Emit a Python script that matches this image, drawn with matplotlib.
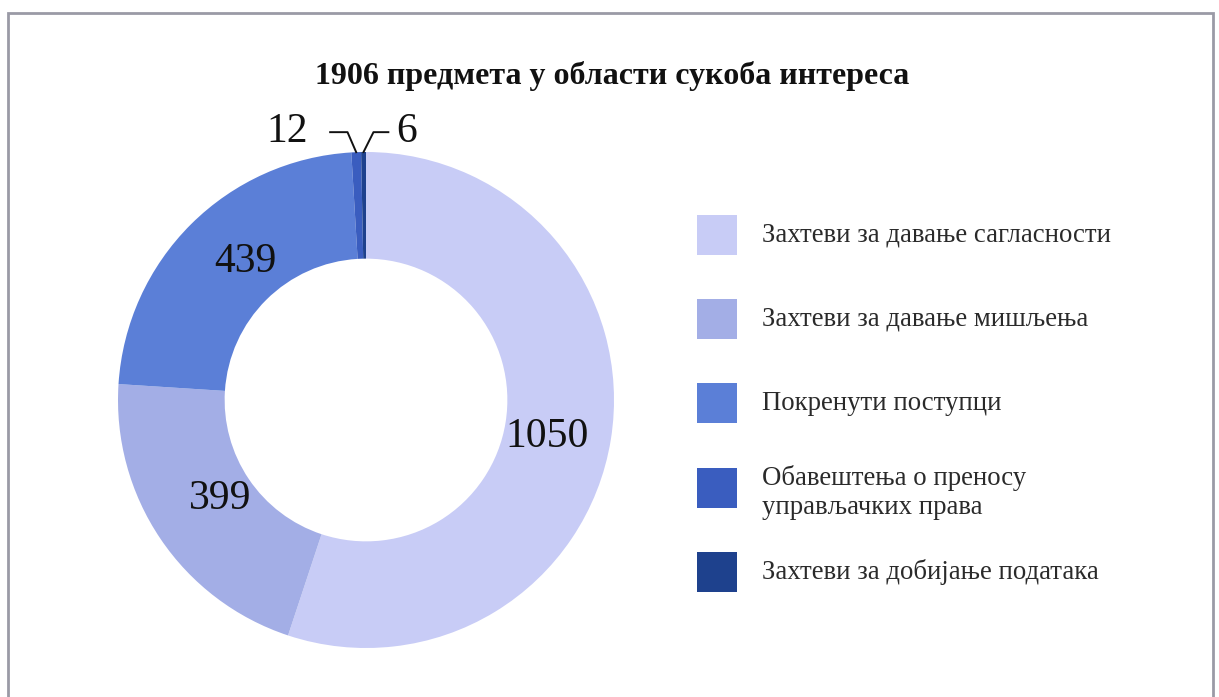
import numpy as np
import matplotlib
matplotlib.use("Agg")
import matplotlib.pyplot as plt
from matplotlib.patches import Rectangle

# podaci
categories = [
    "Захтеви за давање сагласности",
    "Захтеви за давање мишљења",
    "Покренути поступци",
    "Обавештења о преносу\nуправљачких права",
    "Захтеви за добијање података",
]
values = [1050, 399, 439, 12, 6]
colors = ["#c8ccf6", "#a3aee6", "#5b7fd7", "#3a5dbf", "#1e418d"]
title = "1906 предмета у области сукоба интереса"

plt.rcParams["font.family"] = ["Liberation Serif", "DejaVu Serif"]

fig = plt.figure(figsize=(12.19, 6.97), dpi=100)
W, H = 1219, 697

# okvir
fig.patches.append(Rectangle((8 / W, -0.05), (1213 - 8) / W, 0.05 + (697 - 13) / H,
                             transform=fig.transFigure, fill=False,
                             edgecolor="#9a9aa6", linewidth=2))

# krofna
ax = fig.add_axes([118 / W, (H - 648) / H, 496 / W, 496 / H])
wedges, _ = ax.pie(values, colors=colors, startangle=90, counterclock=False,
                   radius=1, wedgeprops=dict(width=0.43, edgecolor="none"))
ax.set_xlim(-1, 1)
ax.set_ylim(-1, 1)
ax.set_aspect("equal")
ax.axis("off")

# oznake vrednosti
label_pos = [(0.74, -0.03), (0.71, 0.0), (0.69, 0.07)]  # (radius, pomeraj po y)
for w, v, (r, dy) in zip(wedges[:3], values[:3], label_pos):
    mid = np.deg2rad((w.theta1 + w.theta2) / 2)
    ax.text(r * np.cos(mid), r * np.sin(mid) + dy, str(v), ha="center", va="center",
            fontsize=30, color="#111111")

# male vrednosti sa linijama
y_txt = 1.08
leaders = [(-1, 0.035, 0.07, 0.09), (1, 0.04, 0.06, 0.03)]  # strana, koleno, horiz, razmak
for w, v, (side, kn, hl, gap) in zip(wedges[3:], values[3:], leaders):
    mid = np.deg2rad((w.theta1 + w.theta2) / 2)
    tx, ty = np.cos(mid), np.sin(mid)
    knee_x = tx + side * kn
    end_x = knee_x + side * hl
    ax.plot([tx, knee_x, end_x], [ty, y_txt, y_txt], color="#111111", lw=1.4,
            clip_on=False)
    ax.text(end_x + side * gap, y_txt, str(v), ha="left" if side > 0 else "right",
            va="center", fontsize=30, color="#111111", clip_on=False)

# naslov
fig.text(612 / W, 1 - 76 / H, title, ha="center", va="center",
         fontsize=23, fontweight="bold", color="#111111")

# legenda
y0 = 235
for i, (cat, c) in enumerate(zip(categories, colors)):
    yc = y0 + i * 84.2
    fig.patches.append(Rectangle((697 / W, 1 - (yc + 20) / H), 40 / W, 40 / H,
                                 transform=fig.transFigure, facecolor=c,
                                 edgecolor="none"))
    ty = yc + (5 if "\n" in cat else 0)
    fig.text(762 / W, 1 - ty / H, cat, ha="left", va="center", fontsize=19.3,
             color="#2a2a2a", linespacing=1.25)

fig.savefig("out.png", dpi=100, facecolor="white")
